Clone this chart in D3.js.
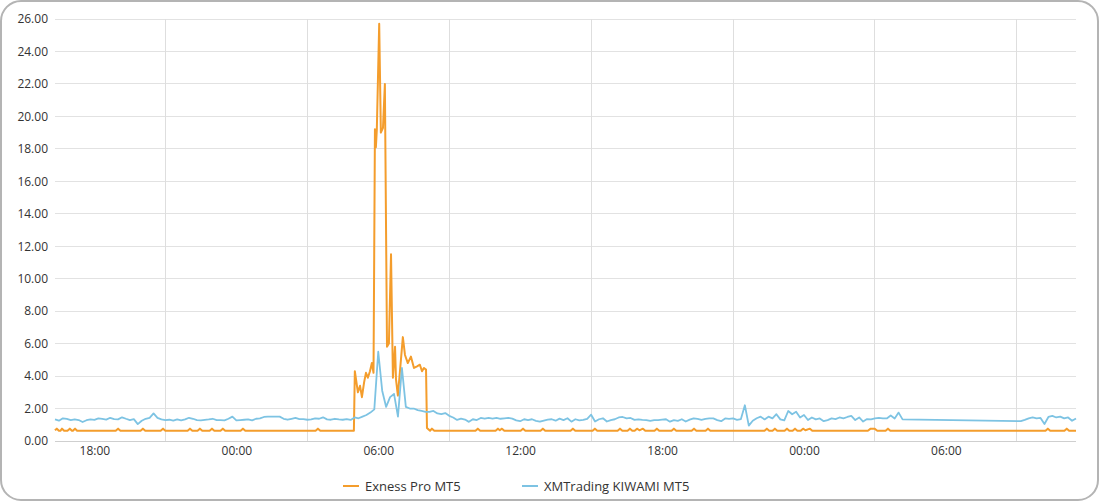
<!DOCTYPE html>
<html><head><meta charset="utf-8">
<script src="https://cdn.jsdelivr.net/npm/d3@7"></script>
<style>
body{margin:0;background:#fff;}
text{font-family:"Open Sans","Noto Sans",sans-serif;}
</style>
</head><body>
<svg id="chart" width="1100" height="502"></svg>
<script>
// ---------- data ----------
const seriesNames = ["Exness Pro MT5", "XMTrading KIWAMI MT5"];
const seriesColors = ["#f49d2c", "#7dc3e3"];
const yTicks = [0,2,4,6,8,10,12,14,16,18,20,22,24,26];
// hours counted from 00:00 of the first day
const xLabelHours = [18, 24, 30, 36, 42, 48, 54];
const xLabels = ["18:00","00:00","06:00","12:00","18:00","00:00","06:00"];
const xGridHours = [21, 27, 33, 39, 45, 51, 57];
const domainHours = [16 + 20/60, 59.5];

// Exness Pro MT5: [hour, spread]
const exness = [
  [16.33,0.66],[16.41,0.76],[16.5,0.63],[16.56,0.63],[16.63,0.76],[16.72,0.63],[16.86,0.63],[16.96,0.76],[17.05,0.63],
  [17.09,0.63],[17.18,0.76],[17.27,0.63],[18.9,0.63],[19.0,0.76],[19.1,0.63],[19.95,0.63],[20.05,0.76],[20.15,0.63],
  [20.8,0.63],[20.9,0.76],[21.0,0.63],[21.94,0.63],[22.04,0.76],[22.14,0.63],[22.36,0.63],[22.46,0.76],[22.56,0.63],
  [22.87,0.63],[22.97,0.76],[23.07,0.63],[23.33,0.63],[23.43,0.76],[23.53,0.63],[24.18,0.63],[24.28,0.76],[24.38,0.63],
  [27.35,0.63],[27.45,0.76],[27.55,0.63],
  [28.97,0.63],[29.01,4.3],[29.14,3.0],[29.23,3.4],[29.31,2.7],[29.40,3.6],[29.48,4.2],[29.56,3.9],[29.65,4.3],
  [29.73,4.8],[29.80,4.2],[29.86,19.2],[29.90,18.1],[29.94,19.2],[30.04,25.7],[30.11,19.0],[30.20,19.3],[30.28,22.0],
  [30.37,5.8],[30.45,6.0],[30.54,11.5],[30.62,3.9],[30.71,5.8],[30.75,3.8],[30.83,2.8],[31.04,6.4],[31.13,5.3],
  [31.25,4.8],[31.38,5.2],[31.51,4.5],[31.64,4.6],[31.76,4.7],[31.85,4.3],[31.93,4.5],[32.02,4.4],[32.06,0.8],
  [32.19,0.63],[32.27,0.76],[32.37,0.63],
  [34.11,0.63],[34.21,0.76],[34.31,0.63],[34.96,0.63],[35.06,0.76],[35.14,0.66],[35.23,0.76],[35.33,0.63],
  [36.02,0.63],[36.12,0.76],[36.22,0.63],[36.86,0.63],[36.96,0.76],[37.06,0.63],[38.13,0.63],[38.23,0.76],[38.33,0.63],
  [39.06,0.63],[39.16,0.76],[39.26,0.63],[40.12,0.63],[40.22,0.76],[40.32,0.63],[40.54,0.63],[40.64,0.76],[40.74,0.63],
  [40.84,0.63],[40.94,0.76],[41.04,0.66],[41.19,0.76],[41.29,0.63],[41.68,0.63],[41.78,0.76],[41.88,0.63],
  [42.40,0.63],[42.50,0.76],[42.60,0.63],[43.25,0.63],[43.35,0.76],[43.45,0.63],[43.84,0.63],[43.94,0.76],[44.04,0.63],
  [46.33,0.63],[46.43,0.76],[46.53,0.63],[46.67,0.63],[46.77,0.76],[46.87,0.63],[47.18,0.63],[47.28,0.76],[47.38,0.63],
  [47.52,0.63],[47.62,0.76],[47.72,0.63],[47.86,0.63],[47.96,0.76],[48.06,0.66],[48.25,0.76],[48.35,0.63],
  [50.70,0.63],[50.82,0.76],[50.98,0.76],[51.10,0.63],[51.45,0.63],[51.55,0.76],[51.65,0.63],
  [58.21,0.63],[58.31,0.76],[58.41,0.63],[59.01,0.63],[59.11,0.76],[59.21,0.63],[59.5,0.63]
];

// XMTrading KIWAMI MT5: one value every 10 minutes from 16:20 (null = no data)
const xmStartHour = 16 + 20/60;
const xmStepMinutes = 10;
const xmtrading = [
  1.33,1.25,1.40,1.36,1.29,1.33,1.29,1.17,1.28,1.33,
  1.30,1.39,1.36,1.32,1.43,1.35,1.33,1.46,1.37,1.29,
  1.35,1.04,1.25,1.37,1.43,1.70,1.42,1.33,1.29,1.31,
  1.25,1.33,1.27,1.33,1.43,1.37,1.29,1.27,1.30,1.33,
  1.37,1.29,1.28,1.27,1.37,1.50,1.27,1.29,1.31,1.33,
  1.27,1.37,1.39,1.48,1.50,1.50,1.50,1.50,1.37,1.31,
  1.37,1.43,1.35,1.35,1.31,1.33,1.40,1.37,1.46,1.33,
  1.31,1.37,1.33,1.31,1.35,1.30,1.45,1.40,1.50,1.60,
  1.75,1.95,5.50,3.10,2.10,2.70,2.90,1.50,4.50,2.10,
  2.00,2.00,1.90,1.85,1.80,1.80,1.85,1.70,1.65,1.72,
  1.55,1.45,1.30,1.38,1.32,1.18,1.34,1.29,1.42,1.38,
  1.42,1.38,1.42,1.37,1.40,1.42,1.38,1.27,1.22,1.34,
  1.29,1.34,1.24,1.19,1.26,1.32,1.34,1.25,1.38,1.29,
  1.40,1.19,1.34,1.27,1.30,1.37,1.62,1.20,1.34,1.40,
  1.20,1.29,1.34,1.45,1.48,1.39,1.42,1.30,1.33,1.30,
  1.29,1.24,1.29,1.29,1.32,1.34,1.19,1.29,1.24,1.34,
  1.20,1.32,1.40,1.36,1.30,1.36,1.40,1.39,1.29,1.22,
  1.39,1.36,1.39,1.30,1.35,2.20,0.95,1.25,1.40,1.50,
  1.33,1.50,1.39,1.65,1.33,1.27,1.85,1.65,1.80,1.45,
  1.60,1.29,1.45,1.33,1.39,1.22,1.29,1.39,1.35,1.45,
  1.39,1.48,1.55,1.29,1.45,1.20,1.35,1.33,1.39,1.42,
  1.39,1.39,1.57,1.39,1.75,1.33,null,null,null,null,
  null,null,null,null,null,null,null,null,null,null,
  null,null,null,null,null,null,null,null,null,null,
  null,null,null,null,null,1.22,1.30,1.39,1.45,1.39,
  1.42,1.05,1.48,1.55,1.45,1.50,1.39,1.45,1.25,1.39
];

// ---------- chart ----------
const W = 1100, H = 502;
const m = {left: 55, right: 24, top: 19, bottom: 61};
const base = new Date(2024, 0, 1, 0, 0, 0);
const toDate = h => new Date(base.getTime() + h * 3600e3);

const svg = d3.select("#chart");

svg.append("rect").attr("x", 1).attr("y", 1).attr("width", W - 3).attr("height", H - 3)
  .attr("rx", 20).attr("ry", 20).attr("fill", "#fff").attr("stroke", "#b4b4b4").attr("stroke-width", 2);

const x = d3.scaleTime().domain(domainHours.map(toDate)).range([m.left, W - m.right]);
const y = d3.scaleLinear().domain([0, 26]).range([H - m.bottom, m.top]);

// horizontal grid
svg.append("g").selectAll("line").data(yTicks).join("line")
  .attr("x1", m.left).attr("x2", W - m.right)
  .attr("y1", d => y(d)).attr("y2", d => y(d))
  .attr("stroke", d => d === 0 ? "#cfcfcf" : "#e2e2e2").attr("stroke-width", 1)
  .attr("shape-rendering", "crispEdges");

// vertical grid
svg.append("g").selectAll("line").data(xGridHours).join("line")
  .attr("x1", d => x(toDate(d))).attr("x2", d => x(toDate(d)))
  .attr("y1", y(26)).attr("y2", y(0))
  .attr("stroke", "#dedede").attr("stroke-width", 1)
  .attr("shape-rendering", "crispEdges");

// y axis
const yAxis = d3.axisLeft(y).tickValues(yTicks).tickFormat(d3.format(".2f")).tickSize(0).tickPadding(7);
const gy = svg.append("g").attr("transform", `translate(${m.left},0)`).call(yAxis);
gy.select(".domain").remove();
gy.selectAll("text").attr("fill", "#333").style("font-size", "12px");

// x axis
const xAxis = d3.axisBottom(x).tickValues(xLabelHours.map(toDate))
  .tickFormat((d, i) => xLabels[i]).tickSize(0).tickPadding(5);
const gx = svg.append("g").attr("transform", `translate(0,${y(0)})`).call(xAxis);
gx.select(".domain").remove();
gx.selectAll("text").attr("fill", "#333").style("font-size", "12px");

// lines
const exData = exness.map(d => ({t: toDate(d[0]), v: d[1]}));
const xmData = xmtrading.map((v, i) => ({t: toDate(xmStartHour + i * xmStepMinutes / 60), v}))
  .filter(d => d.v !== null);

const line = d3.line().x(d => x(d.t)).y(d => y(d.v));

svg.append("path").datum(exData).attr("d", line)
  .attr("fill", "none").attr("stroke", seriesColors[0]).attr("stroke-width", 2).attr("stroke-linejoin", "round");
svg.append("path").datum(xmData).attr("d", line)
  .attr("fill", "none").attr("stroke", seriesColors[1]).attr("stroke-width", 1.8).attr("stroke-linejoin", "round");

// legend
const legendX = [343, 522];
const lg = svg.append("g").selectAll("g").data(seriesNames).join("g")
  .attr("transform", (d, i) => `translate(${legendX[i]},486)`);
lg.append("line").attr("x1", 0).attr("x2", 16).attr("y1", 0).attr("y2", 0)
  .attr("stroke", (d, i) => seriesColors[i]).attr("stroke-width", 2);
lg.append("text").attr("x", 22).attr("y", 0).attr("dy", "0.35em")
  .attr("fill", "#333").style("font-size", "13px").text(d => d);
</script>
</body></html>
